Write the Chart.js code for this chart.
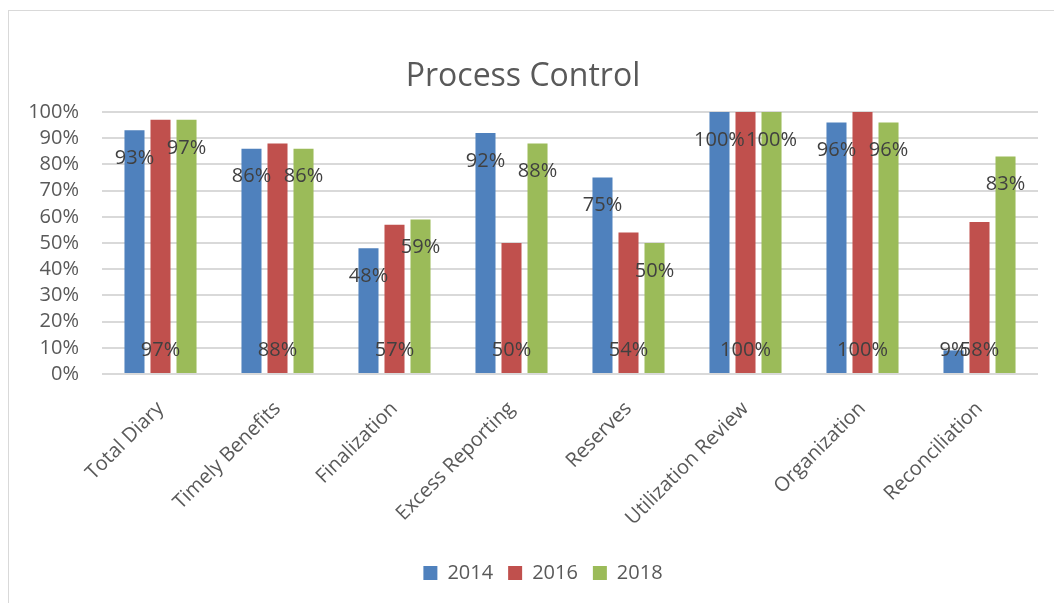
<!DOCTYPE html>
<html><head><meta charset="utf-8">
<script src="https://cdn.jsdelivr.net/npm/chart.js@4.4.0/dist/chart.umd.min.js"></script>
<style>
html,body{margin:0;padding:0;background:#fff;overflow:hidden}
#wrap{position:relative;width:1054px;height:603px;overflow:hidden}
#frame{position:absolute;left:8px;top:10px;width:1100px;height:700px;border:1px solid #d9d9d9;box-sizing:border-box}
canvas{position:absolute;left:0;top:0}
</style></head><body>
<div id="wrap"><div id="frame"></div><canvas id="c" width="1054" height="603"></canvas></div>
<script>
const categories = ['Total Diary','Timely Benefits','Finalization','Excess Reporting','Reserves','Utilization Review','Organization','Reconciliation'];
const seriesNames = ['2014','2016','2018'];
const values2014 = [93, 86, 48, 92, 75, 100, 96, 9];
const values2016 = [97, 88, 57, 50, 54, 100, 100, 58];
const values2018 = [97, 86, 59, 88, 50, 100, 96, 83];
const seriesColors = ['#4F81BD', '#C0504D', '#9BBB59'];
const chartTitle = 'Process Control';

const FONT = '"Open Sans", "Noto Sans", sans-serif';

const labelPlugin = {
  id: 'excelLabels',
  afterDatasetsDraw(chart) {
    const ctx = chart.ctx;
    const base = chart.scales.y.getPixelForValue(0);
    ctx.save();
    ctx.font = '20px ' + FONT;
    ctx.fillStyle = '#404040';
    ctx.textAlign = 'center';
    ctx.textBaseline = 'middle';
    chart.data.datasets.forEach((ds, i) => {
      const meta = chart.getDatasetMeta(i);
      meta.data.forEach((bar, j) => {
        const v = ds.data[j];
        const y = (i === 1) ? base - 24 : Math.min(bar.y + 28, base - 24);
        ctx.fillText(v + '%', bar.x, y);
      });
    });
    ctx.restore();
  }
};

const legendShift = {
  id: 'legendShift',
  afterLayout(chart) {
    const l = chart.legend;
    if (l) { l.left += 20; l.right += 20; }
  }
};

const datasets = [values2014, values2016, values2018].map((d, i) => ({
  label: seriesNames[i],
  data: d,
  backgroundColor: seriesColors[i],
  borderWidth: 0
}));

new Chart(document.getElementById('c'), {
  type: 'bar',
  data: { labels: categories, datasets },
  options: {
    responsive: false,
    animation: false,
    layout: { padding: { top: 10, left: 8, right: 16, bottom: 10 } },
    datasets: { bar: { categoryPercentage: 0.667, barPercentage: 0.77 } },
    plugins: {
      title: {
        display: true, text: chartTitle, color: '#595959',
        font: { family: FONT, size: 32, weight: 'normal' },
        padding: { top: 48, bottom: 15.6 }
      },
      legend: {
        position: 'bottom',
        labels: { color: '#595959', font: { family: FONT, size: 20 }, boxWidth: 14, boxHeight: 14, padding: 15 }
      },
      tooltip: { enabled: false }
    },
    scales: {
      x: {
        grid: { display: false, drawTicks: false },
        border: { display: false },
        ticks: { color: '#595959', font: { family: FONT, size: 20 }, maxRotation: 45, minRotation: 45, padding: 23, autoSkip: false },
        afterFit(s) { s.height = 174; }
      },
      y: {
        min: 0, max: 100,
        ticks: { stepSize: 10, autoSkip: false, callback: v => v + '%', color: '#595959', font: { family: FONT, size: 20 }, padding: 23 },
        grid: { color: '#d9d9d9', lineWidth: 2, drawTicks: false },
        border: { display: false },
        afterFit(s) { s.width = 94; }
      }
    }
  },
  plugins: [labelPlugin, legendShift]
});
</script>
</body></html>
